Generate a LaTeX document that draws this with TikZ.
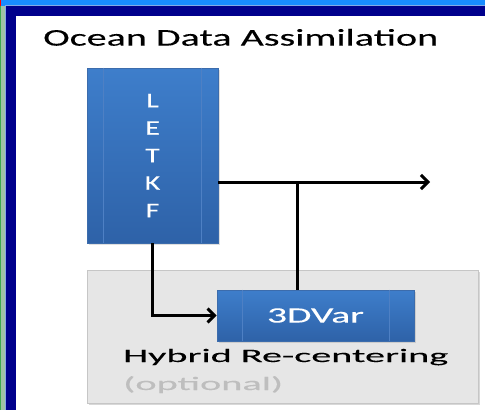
\documentclass[tikz,border=0pt]{standalone}
\usepackage{fontspec}
\setmainfont{Carlito}[FakeBold=0.15]
\usetikzlibrary{arrows.meta,shadows}

\definecolor{winblue}{RGB}{24,140,255}
\definecolor{winnavy}{RGB}{0,0,140}
\definecolor{winedge}{RGB}{130,170,230}
\definecolor{wingreen}{RGB}{60,170,80}
\definecolor{wingray}{RGB}{160,195,165}
\definecolor{blktop}{RGB}{62,126,203}
\definecolor{blkbot}{RGB}{46,98,168}
\definecolor{blkedge}{RGB}{60,108,172}
\definecolor{blkrule}{RGB}{78,128,196}
\definecolor{panelfill}{RGB}{230,230,230}
\definecolor{paneledge}{RGB}{198,198,198}
\definecolor{softgray}{RGB}{190,190,190}

% horizontal stretch used by all lettering
\newcommand{\wide}[1]{\scalebox{1.42}[1]{#1}}

\tikzset{
  blk/.style={draw=blkedge, line width=0.6pt, top color=blktop, bottom color=blkbot,
    text=white, inner sep=0pt,
    drop shadow={opacity=0.25, shadow xshift=1.5pt, shadow yshift=-1.5pt}},
  panel/.style={draw=paneledge, line width=0.8pt, fill=panelfill, inner sep=0pt,
    drop shadow={opacity=0.3, shadow xshift=1.5pt, shadow yshift=-1.5pt}},
  rule/.style={draw=blkrule, line width=0.7pt},
  flow/.style={line width=3pt, black},
  arr/.style={flow, -{Straight Barb[length=7pt,width=14pt]}},
  lbl/.style={inner sep=0pt, anchor=base west}
}

\begin{document}
\begin{tikzpicture}[x=1pt,y=-1pt]
\useasboundingbox (0,0) rectangle (485,410);
\fill[white] (0,0) rectangle (485,410);

% window frame
\fill[winblue] (0,0) rectangle (485,5.5);
\fill[red] (0,0) rectangle (1.2,5.5);
\fill[wingreen] (0,5.5) rectangle (1.2,410);
\fill[wingray] (1.2,5.5) rectangle (5,410);
\fill[winnavy] (5,5) rectangle (485,16);
\fill[winnavy] (5,5) rectangle (16,410);
\draw[winedge, line width=0.8pt] (5.4,410) -- (5.4,5.4) -- (485,5.4);

% title
\node[lbl, anchor=south west] (title) at (43,46)
  {\resizebox{395pt}{\height}{\fontsize{24}{28}\selectfont Ocean Data Assimilation}};

% hybrid re-centering panel
\node[panel, minimum width=391pt, minimum height=133pt] (hyb) at (282.5,336.5) {};
\node[lbl] (hybtxt) at (123,362)
  {\resizebox{325pt}{\height}{\fontsize{19}{22}\selectfont Hybrid Re-centering}};
\node[lbl, text=softgray] (opt) at (123,390)
  {\resizebox{160pt}{\height}{\fontsize{19}{22}\selectfont (optional)}};

% LETKF block
\node[blk, minimum width=131pt, minimum height=175pt, align=center,
      font=\fontsize{21}{27.5}\selectfont] (letkf) at (152.5,155.5)
  {\wide{L}\\\wide{E}\\\wide{T}\\\wide{K}\\\wide{F}};
\draw[rule] ([xshift=17pt]letkf.north west) -- ([xshift=17pt]letkf.south west);
\draw[rule] ([xshift=-17pt]letkf.north east) -- ([xshift=-17pt]letkf.south east);

% 3DVar block
\node[blk, minimum width=197pt, minimum height=51pt] (var) at (315.5,315.5)
  {\resizebox{97pt}{\height}{\fontsize{22}{26}\selectfont 3DVar}};
\draw[rule] ([xshift=26pt]var.north west) -- ([xshift=26pt]var.south west);
\draw[rule] ([xshift=-25pt]var.north east) -- ([xshift=-25pt]var.south east);

% connectors
\coordinate (out) at (430,182);
\coordinate (join) at (297,182);
\draw[arr] (letkf.south) |- (var.west);
\draw[arr] (letkf.east |- out) -- (out);
\draw[flow] (join |- var.north) -- (join);
\end{tikzpicture}
\end{document}
